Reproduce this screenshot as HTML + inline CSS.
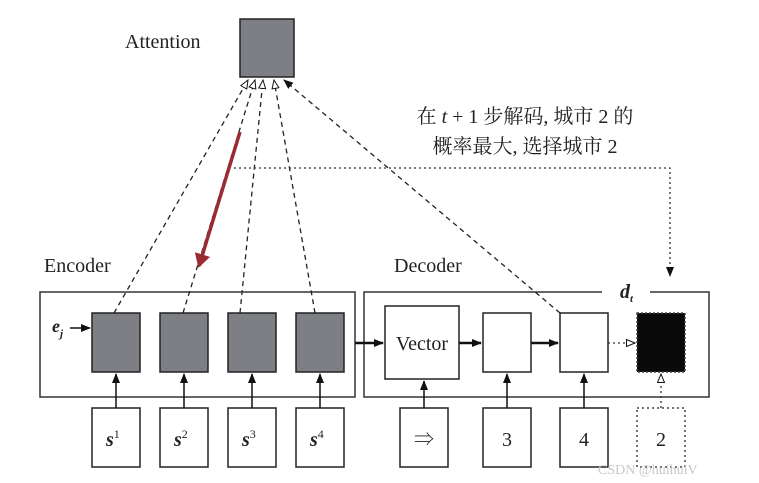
<!DOCTYPE html>
<html><head><meta charset="utf-8"><style>
body{margin:0;background:#fff}
svg{display:block}
text{font-family:"Liberation Serif","Noto Serif CJK SC",serif;fill:#222}
</style></head><body>
<svg width="759" height="483" viewBox="0 0 759 483" xmlns="http://www.w3.org/2000/svg">
<defs>
<marker id="f" markerWidth="10" markerHeight="8" refX="9" refY="4" orient="auto" markerUnits="userSpaceOnUse"><path d="M0,0 L10,4 L0,8 z" fill="#111"/></marker>
<marker id="h" markerWidth="10" markerHeight="8" refX="9" refY="4" orient="auto" markerUnits="userSpaceOnUse"><path d="M0.5,0.5 L9,4 L0.5,7.5 z" fill="#fff" stroke="#111" stroke-width="1"/></marker>
<marker id="r" markerWidth="14" markerHeight="16" refX="12" refY="8" orient="auto" markerUnits="userSpaceOnUse"><path d="M0,0 L14,8 L0,16 z" fill="#9b2a34"/></marker>
</defs>
<g stroke="#333" stroke-width="1.5" fill="none">
<rect x="40" y="292" width="315" height="105"/>
<path d="M602,292 H364 V397 H709 V292 H650"/>
</g>
<rect x="240" y="19" width="54" height="58" fill="#7d7f84" stroke="#222" stroke-width="1.5"/>
<text x="125" y="48" font-size="20">Attention</text>
<text x="44" y="272" font-size="20">Encoder</text>
<text x="394" y="272" font-size="20">Decoder</text>
<text x="620" y="298" font-size="20" font-weight="bold" font-style="italic">d<tspan font-size="11" dy="4">t</tspan></text>
<text x="52" y="332" font-size="18" font-weight="bold" font-style="italic">e<tspan font-size="11" dy="5">j</tspan></text>
<line x1="70" y1="328" x2="90" y2="328" stroke="#111" stroke-width="1.5" marker-end="url(#f)"/>
<g fill="#7d7f84" stroke="#222" stroke-width="1.5">
<rect x="92" y="313" width="48" height="59"/><rect x="160" y="313" width="48" height="59"/>
<rect x="228" y="313" width="48" height="59"/><rect x="296" y="313" width="48" height="59"/>
</g>
<g fill="#fff" stroke="#222" stroke-width="1.5">
<rect x="92" y="408" width="48" height="59"/><rect x="160" y="408" width="48" height="59"/>
<rect x="228" y="408" width="48" height="59"/><rect x="296" y="408" width="48" height="59"/>
<rect x="385" y="306" width="74" height="73"/>
<rect x="483" y="313" width="48" height="59"/><rect x="560" y="313" width="48" height="59"/>
<rect x="400" y="408" width="48" height="59"/><rect x="483" y="408" width="48" height="59"/><rect x="560" y="408" width="48" height="59"/>
</g>
<rect x="637" y="313" width="48" height="59" fill="#0a0a0a" stroke="#444" stroke-width="1.5" stroke-dasharray="2,2"/>
<rect x="637" y="408" width="48" height="59" fill="#fff" stroke="#444" stroke-width="1.5" stroke-dasharray="2,3"/>
<g font-size="20" font-weight="bold" font-style="italic">
<text x="106" y="446">s<tspan font-size="12" dy="-8" font-weight="normal" font-style="normal">1</tspan></text>
<text x="174" y="446">s<tspan font-size="12" dy="-8" font-weight="normal" font-style="normal">2</tspan></text>
<text x="242" y="446">s<tspan font-size="12" dy="-8" font-weight="normal" font-style="normal">3</tspan></text>
<text x="310" y="446">s<tspan font-size="12" dy="-8" font-weight="normal" font-style="normal">4</tspan></text>
</g>
<g font-size="20" text-anchor="middle">
<text x="424" y="446" font-family="DejaVu Sans">⇒</text>
<text x="507" y="446">3</text><text x="584" y="446">4</text><text x="661" y="446">2</text>
<text x="422" y="350">Vector</text>
<text x="525" y="123">在 <tspan font-style="italic">t</tspan> + 1 步解码, 城市 2 的</text>
<text x="525" y="153">概率最大, 选择城市 2</text>
</g>
<g stroke="#111" stroke-width="1.5" marker-end="url(#f)">
<line x1="116" y1="408" x2="116" y2="374"/><line x1="184" y1="408" x2="184" y2="374"/>
<line x1="252" y1="408" x2="252" y2="374"/><line x1="320" y1="408" x2="320" y2="374"/>
<line x1="424" y1="408" x2="424" y2="381"/><line x1="507" y1="408" x2="507" y2="374"/><line x1="584" y1="408" x2="584" y2="374"/>
</g>
<g stroke="#111" stroke-width="2.5" marker-end="url(#f)">
<line x1="355" y1="343" x2="383" y2="343"/><line x1="459" y1="343" x2="481" y2="343"/><line x1="531" y1="343" x2="558" y2="343"/>
</g>
<g stroke="#222" stroke-width="1.3" stroke-dasharray="5,4" fill="none">
<line x1="114" y1="313" x2="248" y2="80" marker-end="url(#h)"/>
<line x1="183" y1="313" x2="255" y2="80" marker-end="url(#h)"/>
<line x1="240" y1="313" x2="263" y2="80" marker-end="url(#h)"/>
<line x1="315" y1="313" x2="274" y2="80" marker-end="url(#h)"/>
<line x1="560" y1="313" x2="284" y2="80" marker-end="url(#f)"/>
</g>
<g stroke="#333" stroke-width="1.3" stroke-dasharray="2,3" fill="none">
<path d="M234,168 H670 V276" marker-end="url(#f)"/>
<line x1="608" y1="343" x2="635" y2="343" marker-end="url(#h)"/>
<line x1="661" y1="408" x2="661" y2="374" marker-end="url(#h)"/>
</g>
<line x1="240" y1="132" x2="199" y2="266" stroke="#9b2a34" stroke-width="3.5" marker-end="url(#r)"/>
<text x="598" y="474" font-size="14" font-family="Liberation Sans" fill="#bbb" style="fill:#c8c8c8">CSDN @huihuiV</text>
</svg>
</body></html>
